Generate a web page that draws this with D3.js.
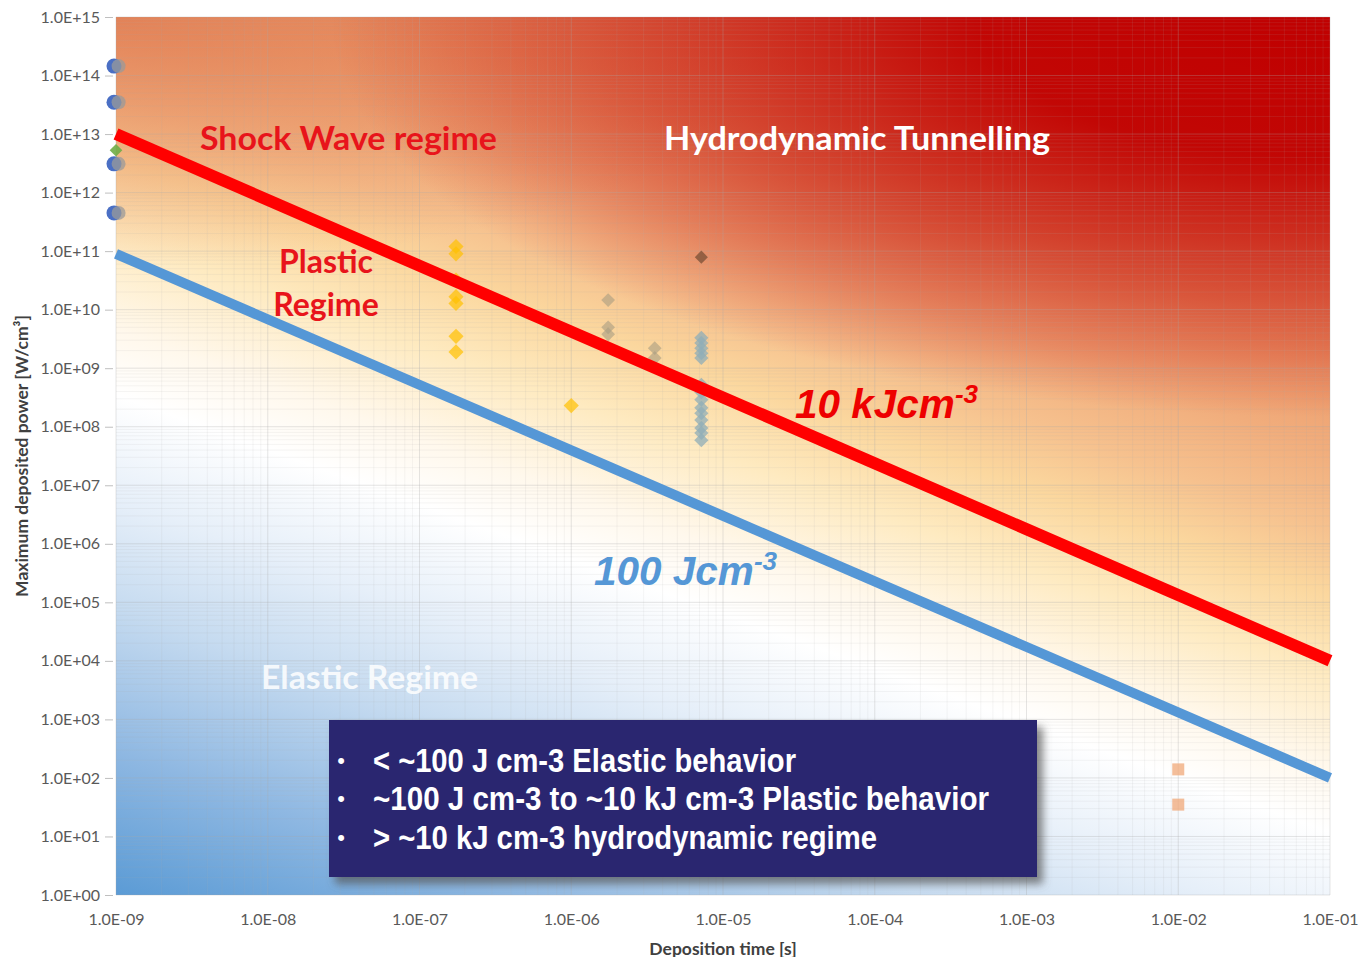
<!DOCTYPE html>
<html>
<head>
<meta charset="utf-8">
<script src="https://cdn.jsdelivr.net/npm/d3@7/dist/d3.min.js"></script>
<style>
  body { margin: 0; background: #fff; }
  text { font-family: Lato, "Open Sans", sans-serif; }
</style>
</head>
<body>
<svg id="chart" width="1361" height="957"></svg>
<script>
// axis ticks
var xTickValues = [1e-9, 1e-8, 1e-7, 1e-6, 1e-5, 1e-4, 1e-3, 1e-2, 1e-1];
var xTickLabels = ["1.0E-09", "1.0E-08", "1.0E-07", "1.0E-06", "1.0E-05", "1.0E-04", "1.0E-03", "1.0E-02", "1.0E-01"];
var yTickValues = [1e0, 1e1, 1e2, 1e3, 1e4, 1e5, 1e6, 1e7, 1e8, 1e9, 1e10, 1e11, 1e12, 1e13, 1e14, 1e15];
var yTickLabels = ["1.0E+00", "1.0E+01", "1.0E+02", "1.0E+03", "1.0E+04", "1.0E+05", "1.0E+06", "1.0E+07",
                   "1.0E+08", "1.0E+09", "1.0E+10", "1.0E+11", "1.0E+12", "1.0E+13", "1.0E+14", "1.0E+15"];

// threshold lines (end points)
var lineTime = [1e-9, 1e-1];
var line10kJ = [1e13, 1e4];
var line100J = [9e10, 1e2];

// measured points
var circleP = [1.45e14, 3.5e13, 3.1e12, 4.5e11];
var circleBlueT = [0.97e-9, 0.97e-9, 0.97e-9, 0.97e-9];
var circleGreyT = [1.04e-9, 1.04e-9, 1.04e-9, 1.04e-9];
var greenT = [1e-9];
var greenP = [5.3e12];
var yellowT = [1.74e-7, 1.74e-7, 1.74e-7, 1.74e-7, 1.74e-7, 1.74e-7, 1.74e-7, 1e-6];
var yellowP = [1.2e11, 9.0e10, 3.2e10, 1.67e10, 1.28e10, 3.5e9, 1.9e9, 2.3e8];
var tanT = [1.75e-6, 1.75e-6, 1.75e-6, 3.55e-6, 3.55e-6];
var tanP = [1.46e10, 5e9, 3.8e9, 2.2e9, 1.5e9];
var greyBlueT = [7.2e-6, 7.2e-6, 7.2e-6, 7.2e-6, 7.2e-6, 7.2e-6, 7.2e-6, 7.2e-6, 7.2e-6, 7.2e-6, 7.2e-6, 7.2e-6, 7.2e-6, 7.2e-6];
var greyBlueP = [3.3e9, 2.7e9, 2.2e9, 1.8e9, 1.5e9, 5.2e8, 3.9e8, 2.9e8, 2.1e8, 1.7e8, 1.3e8, 9.5e7, 7.8e7, 5.9e7];
var brownT = [7.2e-6];
var brownP = [7.9e10];
var squareT = [1e-2, 1e-2];
var squareP = [140, 35];

var legendLines = ["< ~100 J cm-3 Elastic behavior",
                   "~100 J cm-3 to ~10 kJ cm-3  Plastic behavior",
                   "> ~10 kJ cm-3 hydrodynamic regime"];

var plotL = 116, plotR = 1330, plotT = 17, plotB = 895;

var svg = d3.select("#chart");

var x = d3.scaleLog().domain([1e-9, 1e-1]).range([plotL, plotR]);
var y = d3.scaleLog().domain([1e0, 1e15]).range([plotB, plotT]);

var defs = svg.append("defs");

// base background gradient, roughly perpendicular to the threshold lines
var slope = 0.36;
var sTop = plotT - slope * plotR;
var sBot = plotB - slope * plotL;
var k = (sBot - sTop) / (1 + slope * slope);
var grad = defs.append("linearGradient")
    .attr("id", "bg")
    .attr("gradientUnits", "userSpaceOnUse")
    .attr("x1", plotR).attr("y1", plotT)
    .attr("x2", plotR - slope * k).attr("y2", plotT + k);
[[0, "#df6a48"], [0.25, "#ec9868"], [0.33, "#f1ad7c"], [0.39, "#f6c18e"], [0.44, "#fbd79e"],
 [0.5, "#feeac0"], [0.57, "#fff8ec"], [0.62, "#ffffff"], [0.7, "#e6eff9"], [0.78, "#c6dbf0"],
 [0.89, "#8fb8e2"], [1, "#5b9bd5"]]
  .forEach(function(s) {
    grad.append("stop").attr("offset", s[0]).attr("stop-color", s[1]);
  });

// deep red glow in the top right corner
var red = defs.append("radialGradient")
    .attr("id", "redGlow")
    .attr("gradientUnits", "userSpaceOnUse")
    .attr("cx", 0).attr("cy", 0).attr("r", 1)
    .attr("gradientTransform", "translate(" + plotR + "," + plotT + ") scale(1000,400)");
[[0, 1], [0.35, 0.95], [0.7, 0.45], [1, 0]].forEach(function(s) {
  red.append("stop").attr("offset", s[0]).attr("stop-color", "#c00000").attr("stop-opacity", s[1]);
});

// darker orange in the top left corner
var orange = defs.append("radialGradient")
    .attr("id", "orangeGlow")
    .attr("gradientUnits", "userSpaceOnUse")
    .attr("cx", 0).attr("cy", 0).attr("r", 1)
    .attr("gradientTransform", "translate(" + plotL + "," + plotT + ") scale(700,250)");
[[0, 0.7], [0.5, 0.35], [1, 0]].forEach(function(s) {
  orange.append("stop").attr("offset", s[0]).attr("stop-color", "#dd7048").attr("stop-opacity", s[1]);
});

var shadow = defs.append("filter").attr("id", "shadow")
    .attr("x", "-5%").attr("y", "-5%").attr("width", "115%").attr("height", "125%");
shadow.append("feDropShadow").attr("dx", 6).attr("dy", 7).attr("stdDeviation", 4)
    .attr("flood-color", "#555").attr("flood-opacity", 0.7);

["url(#bg)", "url(#orangeGlow)", "url(#redGlow)"].forEach(function(f) {
  svg.append("rect")
      .attr("x", plotL).attr("y", plotT)
      .attr("width", plotR - plotL).attr("height", plotB - plotT)
      .attr("fill", f);
});

// grid lines
var minorX = [], minorY = [];
for (var e = -9; e < -1; e++) for (var m = 2; m < 10; m++) minorX.push(m * Math.pow(10, e));
for (var e2 = 0; e2 < 15; e2++) for (var m2 = 2; m2 < 10; m2++) minorY.push(m2 * Math.pow(10, e2));

var grid = svg.append("g");
grid.selectAll(".mx").data(minorX).enter().append("line")
    .attr("x1", function(d) { return x(d); }).attr("x2", function(d) { return x(d); })
    .attr("y1", plotT).attr("y2", plotB)
    .attr("stroke", "rgba(170,170,170,0.12)");
grid.selectAll(".my").data(minorY).enter().append("line")
    .attr("y1", function(d) { return y(d); }).attr("y2", function(d) { return y(d); })
    .attr("x1", plotL).attr("x2", plotR)
    .attr("stroke", "rgba(170,170,170,0.12)");
grid.selectAll(".gx").data(xTickValues).enter().append("line")
    .attr("x1", function(d) { return x(d); }).attr("x2", function(d) { return x(d); })
    .attr("y1", plotT).attr("y2", plotB)
    .attr("stroke", "rgba(170,170,170,0.3)");
grid.selectAll(".gy").data(yTickValues).enter().append("line")
    .attr("y1", function(d) { return y(d); }).attr("y2", function(d) { return y(d); })
    .attr("x1", plotL).attr("x2", plotR)
    .attr("stroke", "rgba(170,170,170,0.3)");

// axes
var yAxis = d3.axisLeft(y).tickValues(yTickValues)
    .tickFormat(function(d, i) { return yTickLabels[i]; })
    .tickSize(8).tickPadding(5);
var gy = svg.append("g").attr("transform", "translate(" + (plotL - 3) + ",0)").call(yAxis);
gy.select(".domain").remove();
gy.selectAll("line").attr("stroke", "#bfbfbf");
gy.selectAll("text").attr("fill", "#595959").style("font-size", "16px").style("font-family", "Lato");

var xAxis = d3.axisBottom(x).tickValues(xTickValues)
    .tickFormat(function(d, i) { return xTickLabels[i]; })
    .tickSize(0).tickPadding(19);
var gx = svg.append("g").attr("transform", "translate(0," + plotB + ")").call(xAxis);
gx.select(".domain").remove();
gx.selectAll("text").attr("fill", "#595959").style("font-size", "16px").style("font-family", "Lato");

svg.append("text")
    .attr("transform", "translate(21,456) rotate(-90)")
    .attr("text-anchor", "middle").attr("dominant-baseline", "central")
    .attr("fill", "#404040").style("font-size", "17.5px").style("font-weight", "bold")
    .text("Maximum deposited power [W/cm\u00b3]");
svg.append("text")
    .attr("x", 723).attr("y", 948)
    .attr("text-anchor", "middle").attr("dominant-baseline", "central")
    .attr("fill", "#404040").style("font-size", "17.5px").style("font-weight", "bold")
    .text("Deposition time [s]");

// markers
var marks = svg.append("g");
function zip(ts, ps) { return ts.map(function(t, i) { return [t, ps[i]]; }); }
function diamonds(data, size, fill, opacity) {
  marks.append("g").selectAll("path").data(data).enter().append("path")
    .attr("d", d3.symbol().type(d3.symbolSquare).size(size))
    .attr("transform", function(d) { return "translate(" + x(d[0]) + "," + y(d[1]) + ") rotate(45)"; })
    .attr("fill", fill).attr("fill-opacity", opacity);
}
marks.append("g").selectAll("circle").data(zip(circleBlueT, circleP)).enter().append("circle")
    .attr("cx", function(d) { return x(d[0]); }).attr("cy", function(d) { return y(d[1]); })
    .attr("r", 7.5).attr("fill", "#4a6fc4");
marks.append("g").selectAll("circle").data(zip(circleGreyT, circleP)).enter().append("circle")
    .attr("cx", function(d) { return x(d[0]); }).attr("cy", function(d) { return y(d[1]); })
    .attr("r", 7).attr("fill", "#9a9a9a").attr("fill-opacity", 0.75);
diamonds(zip(greenT, greenP), 80, "#70ad47", 0.9);
diamonds(zip(yellowT, yellowP), 115, "#ffc000", 0.7);
diamonds(zip(tanT, tanP), 95, "#a89c82", 0.6);
diamonds(zip(greyBlueT, greyBlueP), 100, "#8fadb8", 0.75);
diamonds(zip(brownT, brownP), 85, "#7a4f35", 0.75);
marks.append("g").selectAll("rect").data(zip(squareT, squareP)).enter().append("rect")
    .attr("x", function(d) { return x(d[0]) - 6; }).attr("y", function(d) { return y(d[1]) - 6; })
    .attr("width", 12).attr("height", 12)
    .attr("fill", "#f0a878").attr("fill-opacity", 0.75);

// threshold lines
var line = d3.line().x(function(d) { return x(d[0]); }).y(function(d) { return y(d[1]); });
svg.append("path").datum(zip(lineTime, line100J))
    .attr("d", line).attr("stroke", "#5597d6").attr("stroke-width", 10).attr("fill", "none");
svg.append("path").datum(zip(lineTime, line10kJ))
    .attr("d", line).attr("stroke", "#ff0000").attr("stroke-width", 12).attr("fill", "none");

// region annotations
function label(tx, ty, str, fill, size) {
  return svg.append("text").attr("x", tx).attr("y", ty)
    .attr("dominant-baseline", "central")
    .attr("fill", fill).style("font-size", size + "px").style("font-weight", "bold")
    .text(str);
}
label(200, 137, "Shock Wave regime", "#e8141b", 32).attr("textLength", 297).attr("lengthAdjust", "spacingAndGlyphs");
label(664, 137, "Hydrodynamic Tunnelling", "#ffffff", 32).attr("textLength", 386).attr("lengthAdjust", "spacingAndGlyphs");
label(326, 260, "Plastic", "#e8141b", 32).attr("text-anchor", "middle");
label(326, 303, "Regime", "#e8141b", 32).attr("text-anchor", "middle");
label(261, 676, "Elastic Regime", "rgba(255,255,255,0.85)", 32).attr("textLength", 217).attr("lengthAdjust", "spacingAndGlyphs");

function energyLabel(tx, ty, main, fill) {
  var t = svg.append("text").attr("x", tx).attr("y", ty)
    .attr("fill", fill)
    .style("font-family", "'Liberation Sans', Arial, sans-serif")
    .style("font-size", "40.5px").style("font-weight", "bold").style("font-style", "italic");
  t.append("tspan").text(main);
  t.append("tspan").attr("dy", -15).style("font-size", "26px").text("-3");
}
energyLabel(795, 418, "10 kJcm", "#ee0000");
energyLabel(594, 585, "100 Jcm", "#5597d6");

// legend box
var legend = svg.append("g");
legend.append("rect")
    .attr("x", 329).attr("y", 720).attr("width", 708).attr("height", 157)
    .attr("fill", "#29266f").attr("filter", "url(#shadow)");
var lw = [423, 616, 504];
legendLines.forEach(function(s, i) {
  var ly = 760 + i * 38.5;
  legend.append("text").attr("x", 341).attr("y", ly)
    .attr("text-anchor", "middle").attr("dominant-baseline", "central")
    .attr("fill", "#fff").style("font-family", "'Liberation Sans', Arial, sans-serif")
    .style("font-size", "22px").text("\u2022");
  legend.append("text").attr("x", 373).attr("y", ly)
    .attr("dominant-baseline", "central")
    .attr("fill", "#fff")
    .style("font-family", "'Liberation Sans Narrow', 'Liberation Sans', Arial, sans-serif")
    .style("font-size", "33px").style("font-weight", "bold")
    .attr("textLength", lw[i]).attr("lengthAdjust", "spacingAndGlyphs")
    .text(s);
});
</script>
</body>
</html>
